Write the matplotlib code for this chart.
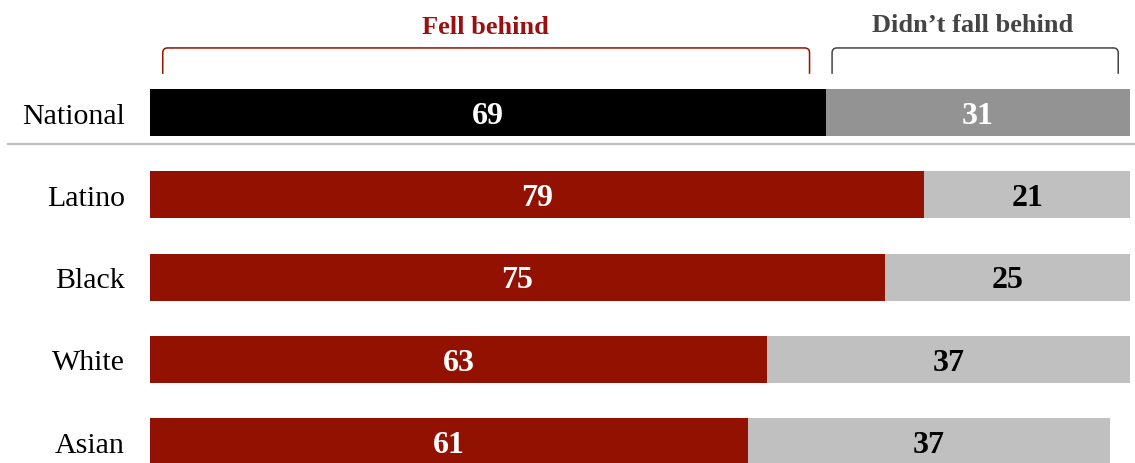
import matplotlib.pyplot as plt
from matplotlib.path import Path
from matplotlib.patches import PathPatch
from matplotlib.lines import Line2D

plt.rcParams['font.family'] = ['Liberation Serif', 'DejaVu Serif']

groups = ['National', 'Latino', 'Black', 'White', 'Asian']
fell_behind = [69, 79, 75, 63, 61]
not_behind = [31, 21, 25, 37, 37]

red = '#931100'
fell_colors = ['#000000', red, red, red, red]
not_colors = ['#939393', '#c0c0c0', '#c0c0c0', '#c0c0c0', '#c0c0c0']
not_text = ['white', 'black', 'black', 'black', 'black']

fig = plt.figure(figsize=(11.35, 4.64), dpi=100)
ax = fig.add_axes([150 / 1135, 0, 980 / 1135, 1])

ypos = list(range(len(groups)))
h = 0.573
ax.barh(ypos, fell_behind, height=h, color=fell_colors)
ax.barh(ypos, not_behind, left=fell_behind, height=h, color=not_colors)

# value labels
for i in ypos:
    ax.text(fell_behind[i] / 2, i + 0.035, str(fell_behind[i]), ha='center', va='center',
            color='white', fontsize=23, fontweight='bold')
    ax.text(fell_behind[i] + not_behind[i] / 2, i + 0.035, str(not_behind[i]), ha='center',
            va='center', color=not_text[i], fontsize=23, fontweight='bold')

ax.set_xlim(0, 100)
ax.set_ylim(4.26, -1.38)
ax.set_yticks(ypos)
ax.set_yticklabels(groups, fontsize=21.5)
ax.tick_params(axis='y', length=0, pad=18)
ax.set_xticks([])
for s in ax.spines.values():
    s.set_visible(False)


def bracket(x0, x1, top, bottom, color):
    rx, ry = 0.5, 0.06
    verts = [(x0, bottom), (x0, top + ry), (x0, top), (x0 + rx, top),
             (x1 - rx, top), (x1, top), (x1, top + ry), (x1, bottom)]
    codes = [Path.MOVETO, Path.LINETO, Path.CURVE3, Path.CURVE3,
             Path.LINETO, Path.CURVE3, Path.CURVE3, Path.LINETO]
    ax.add_patch(PathPatch(Path(verts, codes), fill=False, edgecolor=color,
                           linewidth=1.1, clip_on=False))


nat_fell = fell_behind[0]
bracket(1.3, nat_fell - 1.7, -0.785, -0.47, red)
bracket(nat_fell + 0.6, 98.8, -0.785, -0.47, '#444444')

ax.text(nat_fell / 2 - 0.3, -1.05, 'Fell behind', ha='center', va='center',
        color='#9a1010', fontsize=19, fontweight='bold')
ax.text(nat_fell + (100 - nat_fell) / 2 - 0.6, -1.07, 'Didn\u2019t fall behind',
        ha='center', va='center', color='#444444', fontsize=19, fontweight='bold')

fig.add_artist(Line2D([8 / 1135, 1], [1 - 145 / 464, 1 - 145 / 464],
                      color='#bfbfbf', linewidth=1.6, transform=fig.transFigure))

fig.savefig('out.png', dpi=100)
